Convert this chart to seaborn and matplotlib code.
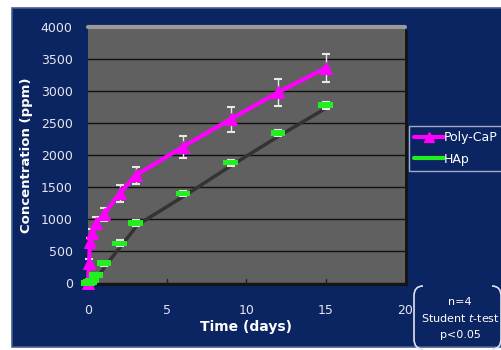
import matplotlib
matplotlib.use("Agg")
import matplotlib.pyplot as plt
import matplotlib.patches as mpatches
from matplotlib.path import Path
from matplotlib.lines import Line2D
import matplotlib.transforms as mtrans
import seaborn as sns
import pandas as pd

# ---- data ----
time_poly = [0, 0.06, 0.125, 0.25, 0.5, 1, 2, 3, 6, 9, 12, 15]
conc_poly = [0, 310, 640, 780, 935, 1075, 1400, 1680, 2130, 2560, 2980, 3360]
err_poly = [20, 60, 60, 70, 90, 100, 130, 130, 170, 195, 210, 225]

time_hap = [0, 0.125, 0.25, 0.5, 1, 2, 3, 6, 9, 12, 15]
conc_hap = [0, 20, 40, 125, 310, 620, 940, 1400, 1880, 2340, 2780]
err_hap = [10, 15, 20, 30, 40, 45, 50, 40, 45, 50, 55]

x_ticks = [0, 5, 10, 15, 20]
y_ticks = [0, 500, 1000, 1500, 2000, 2500, 3000, 3500, 4000]

df_poly = pd.DataFrame({"Time": time_poly, "Conc": conc_poly})
df_hap = pd.DataFrame({"Time": time_hap, "Conc": conc_hap})

sns.set_theme(style="dark")
plt.rcParams['font.family'] = ['DejaVu Sans']

W, H = 502, 350
fig = plt.figure(figsize=(W / 100, H / 100), dpi=100)
fig.patch.set_facecolor("white")

navy = "#0b2462"
# outer navy frame
fig.patches.append(mpatches.Rectangle((12 / W, 3 / H), 1 - 12 / W, 339 / H,
                                      transform=fig.transFigure, facecolor=navy,
                                      edgecolor="#4a5f8f", linewidth=1.2, zorder=-3))

L, R, T, B = 88, 405, 27, 283
ax = fig.add_axes([L / W, 1 - B / H, (R - L) / W, (B - T) / H])
ax.set_zorder(2)

# shadow of the plot area
fig.patches.append(mpatches.Rectangle(((L + 3) / W, 1 - (B + 3) / H), (R - L) / W, (B - T) / H,
                                      transform=fig.transFigure, facecolor="#141414",
                                      edgecolor="none", zorder=-2))

ax.set_facecolor("#606060")
for s in ax.spines.values():
    s.set_visible(False)

ax.set_xlim(0, 20)
ax.set_ylim(0, 4000)
ax.set_xticks(x_ticks)
ax.set_yticks(y_ticks)
ax.yaxis.grid(True, color="#111111", linewidth=1.0)
ax.xaxis.grid(False)
ax.tick_params(axis="y", length=0, pad=11, labelsize=9, labelcolor="#e6e6ee")
ax.tick_params(axis="x", length=0, pad=15, labelsize=9, labelcolor="#e6e6ee")
# small inner ticks at bottom
for xt in x_ticks[1:-1]:
    ax.plot([xt, xt], [0, 60], color="#222222", lw=1, zorder=2)

# top bevel
ax.axhline(4000, color="#9a9a9a", lw=3, zorder=1)

# HAp shadow-like dark line
off = mtrans.offset_copy(ax.transData, fig=fig, x=2, y=-2, units="dots")
ax.plot(time_hap, conc_hap, color="#333333", lw=2.5, zorder=2, transform=off)

# error bars
ax.errorbar(time_poly, conc_poly, yerr=err_poly, fmt="none", ecolor="#e8e8e8",
            elinewidth=1, capsize=3, capthick=1.5, zorder=3)
ax.errorbar(time_hap, conc_hap, yerr=err_hap, fmt="none", ecolor="#e8e8e8",
            elinewidth=1, capsize=3, capthick=1.5, zorder=3)

magenta = "#ff00ff"
green = "#22ee22"
sns.lineplot(data=df_poly, x="Time", y="Conc", ax=ax, color=magenta, lw=3,
             marker="^", markersize=8, markeredgecolor=magenta, zorder=4, legend=False)
bar_marker = [(-2.6, -1), (2.6, -1), (2.6, 1), (-2.6, 1), (-2.6, -1)]
sns.scatterplot(data=df_hap, x="Time", y="Conc", ax=ax, color=green, marker=bar_marker,
                s=110, edgecolor="none", zorder=5, legend=False)
for c in ax.collections:
    c.set_clip_on(False)
for ln in ax.lines:
    ln.set_clip_on(False)

ax.set_xlabel("Time (days)", color="white", fontsize=10, fontweight="bold", labelpad=2)
ax.set_ylabel("Concentration (ppm)", color="white", fontsize=9.5, fontweight="bold", labelpad=6)

# legend
handles = [Line2D([], [], color=magenta, lw=3, marker="^", markersize=7),
           Line2D([], [], color=green, lw=3)]
leg = fig.legend(handles, ["Poly-CaP", "HAp"], loc="upper left",
                 bbox_to_anchor=(409 / W, 1 - 126 / H), frameon=True,
                 facecolor=navy, edgecolor="#c8d0e0", labelcolor="white",
                 fontsize=9, handlelength=2.4, handletextpad=0.0,
                 borderpad=0.4, labelspacing=0.7, fancybox=False, borderaxespad=0)
leg.get_frame().set_linewidth(1)
leg.set_zorder(5)

# annotation bracket box
x0, x1 = 414 / W, 501 / W
y0, y1 = 1 - 349 / H, 1 - 286 / H
rx, ry = 9 / W, 10 / H
lb = Path([(x0 + rx, y1), (x0, y1), (x0, y1 - ry), (x0, y0 + ry), (x0, y0), (x0 + rx, y0)],
          [Path.MOVETO, Path.CURVE3, Path.CURVE3, Path.LINETO, Path.CURVE3, Path.CURVE3])
rb = Path([(x1 - rx, y1), (x1, y1), (x1, y1 - ry), (x1, y0 + ry), (x1, y0), (x1 - rx, y0)],
          [Path.MOVETO, Path.CURVE3, Path.CURVE3, Path.LINETO, Path.CURVE3, Path.CURVE3])
for p in (lb, rb):
    fig.patches.append(mpatches.PathPatch(p, transform=fig.transFigure, facecolor="none",
                                          edgecolor="#e0e4f0", lw=1.2, zorder=5))
fig.text(460 / W, 1 - 302 / H, "n=4", color="white", fontsize=8, ha="center", va="center")
fig.text(460 / W, 1 - 318 / H, "Student $t$-test", color="white", fontsize=8, ha="center", va="center")
fig.text(460 / W, 1 - 335 / H, "p<0.05", color="white", fontsize=8, ha="center", va="center")

fig.savefig("out.png", dpi=100, facecolor=fig.get_facecolor())
